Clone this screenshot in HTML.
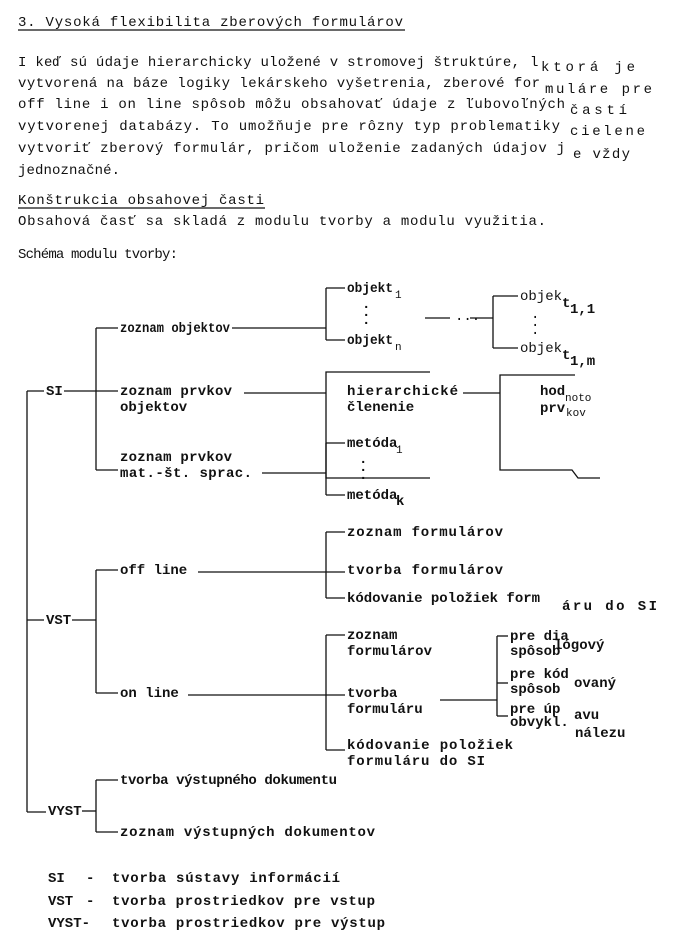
<!DOCTYPE html>
<html><head><meta charset="utf-8"><style>
html,body{margin:0;padding:0;background:#fff}
svg{display:block}
text{font-family:"Liberation Mono",monospace;font-size:14px;fill:#111;font-weight:bold}
.n{font-weight:normal;font-size:14px}
.s{font-size:11px;font-weight:normal}
line,path{stroke:#111;stroke-width:1.3;fill:none}
</style></head><body>
<svg width="673" height="941" viewBox="0 0 673 941" xmlns="http://www.w3.org/2000/svg">
<text class="n" x="18" y="26" textLength="385" lengthAdjust="spacing">3. Vysoká flexibilita zberových formulárov</text>
<line x1="18" y1="30" x2="405" y2="30"/>
<text class="n" x="18" y="66" textLength="502" lengthAdjust="spacing">I keď sú údaje hierarchicky uložené v stromovej štruktúre,</text>
<text class="n" x="530" y="66">l</text>
<text class="n" x="541" y="71" textLength="94" lengthAdjust="spacing">ktorá je</text>
<text class="n" x="18" y="87" textLength="522" lengthAdjust="spacing">vytvorená na báze logiky lekárskeho vyšetrenia, zberové for</text>
<text class="n" x="545" y="93" textLength="107" lengthAdjust="spacing">muláre pre</text>
<text class="n" x="18" y="108" textLength="547" lengthAdjust="spacing">off line i on line spôsob môžu obsahovať údaje z ľubovoľných</text>
<text class="n" x="570" y="114" textLength="57" lengthAdjust="spacing">častí</text>
<text class="n" x="18" y="130" textLength="542" lengthAdjust="spacing">vytvorenej databázy. To umožňuje pre rôzny typ problematiky</text>
<text class="n" x="570" y="135" textLength="75" lengthAdjust="spacing">cielene</text>
<text class="n" x="18" y="152" textLength="547" lengthAdjust="spacing">vytvoriť zberový formulár, pričom uloženie zadaných údajov j</text>
<text class="n" x="573" y="158" textLength="57" lengthAdjust="spacing">e vždy</text>
<text class="n" x="18" y="174" textLength="102" lengthAdjust="spacing">jednoznačné.</text>
<text class="n" x="18" y="204" textLength="246" lengthAdjust="spacing">Konštrukcia obsahovej časti</text>
<line x1="18" y1="208" x2="265" y2="208"/>
<text class="n" x="18" y="225" textLength="528" lengthAdjust="spacing">Obsahová časť sa skladá z modulu tvorby a modulu využitia.</text>
<text class="n" x="18" y="258" textLength="160" lengthAdjust="spacing">Schéma modulu tvorby:</text>

<!-- SI branch -->
<line x1="27" y1="391" x2="27" y2="812"/>
<line x1="27" y1="391" x2="44" y2="391"/>
<text x="46" y="395">SI</text>
<line x1="64" y1="391" x2="96" y2="391"/>
<line x1="96" y1="328" x2="96" y2="470"/>
<line x1="96" y1="328" x2="118" y2="328"/>
<text x="120" y="332" textLength="110" lengthAdjust="spacingAndGlyphs">zoznam objektov</text>
<line x1="232" y1="328" x2="326" y2="328"/>
<line x1="326" y1="288" x2="326" y2="340"/>
<line x1="326" y1="288" x2="345" y2="288"/>
<line x1="326" y1="340" x2="345" y2="340"/>
<text x="347" y="292" textLength="46" lengthAdjust="spacingAndGlyphs">objekt</text><text class="s" x="395" y="298">1</text>
<text x="362" y="308">.</text><text x="362" y="316">.</text><text x="362" y="324">.</text>
<text x="347" y="344" textLength="46" lengthAdjust="spacingAndGlyphs">objekt</text><text class="s" x="395" y="350">n</text>
<line x1="425" y1="318" x2="450" y2="318"/>
<text class="n" x="455" y="320">...</text>
<line x1="470" y1="318" x2="493" y2="318"/>
<line x1="493" y1="296" x2="493" y2="348"/>
<line x1="493" y1="296" x2="518" y2="296"/>
<line x1="493" y1="348" x2="518" y2="348"/>
<text class="n" x="520" y="300">objek</text><text x="562" y="307">t</text><text x="570" y="313">1,1</text>
<text class="n" x="520" y="352">objek</text><text x="562" y="359">t</text><text x="570" y="365">1,m</text>
<text class="n" x="531" y="318">.</text><text class="n" x="531" y="326">.</text><text class="n" x="531" y="334">.</text>

<line x1="96" y1="391" x2="118" y2="391"/>
<text x="120" y="395" textLength="112" lengthAdjust="spacing">zoznam prvkov</text>
<text x="120" y="411">objektov</text>
<line x1="244" y1="393" x2="326" y2="393"/>
<path d="M430 372 H326 V478 H430"/>
<text x="347" y="395" textLength="111" lengthAdjust="spacing">hierarchické</text>
<text x="347" y="411">členenie</text>
<line x1="463" y1="393" x2="500" y2="393"/>
<path d="M575 375 H500 V470 H572 L578 478 H600"/>
<text x="540" y="395">hod</text><text x="540" y="412">prv</text>
<text class="s" x="565" y="401">noto</text><text class="s" x="566" y="416">kov</text>

<line x1="96" y1="470" x2="118" y2="470"/>
<text x="120" y="461" textLength="112" lengthAdjust="spacing">zoznam prvkov</text>
<text x="120" y="477" textLength="132" lengthAdjust="spacing">mat.-št. sprac.</text>
<line x1="262" y1="473" x2="326" y2="473"/>
<line x1="326" y1="443" x2="326" y2="495"/>
<line x1="326" y1="443" x2="345" y2="443"/>
<line x1="326" y1="495" x2="345" y2="495"/>
<text x="347" y="447">metóda</text><text class="s" x="396" y="453">1</text>
<text x="359" y="463">.</text><text x="359" y="471">.</text><text x="359" y="479">.</text>
<text x="347" y="499">metóda</text><text x="396" y="505">k</text>

<!-- VST -->
<line x1="27" y1="620" x2="44" y2="620"/>
<text x="46" y="624">VST</text>
<line x1="72" y1="620" x2="96" y2="620"/>
<line x1="96" y1="570" x2="96" y2="693"/>
<line x1="96" y1="570" x2="118" y2="570"/>
<text x="120" y="574">off line</text>
<line x1="198" y1="572" x2="326" y2="572"/>
<line x1="326" y1="532" x2="326" y2="598"/>
<line x1="326" y1="532" x2="345" y2="532"/>
<line x1="326" y1="572" x2="345" y2="572"/>
<line x1="326" y1="598" x2="345" y2="598"/>
<text x="347" y="536" textLength="156" lengthAdjust="spacing">zoznam formulárov</text>
<text x="347" y="574" textLength="156" lengthAdjust="spacing">tvorba formulárov</text>
<text x="347" y="602" textLength="193" lengthAdjust="spacing">kódovanie položiek form</text>
<text x="562" y="610" textLength="95" lengthAdjust="spacing">áru do SI</text>

<line x1="96" y1="693" x2="118" y2="693"/>
<text x="120" y="697">on line</text>
<line x1="188" y1="695" x2="326" y2="695"/>
<line x1="326" y1="635" x2="326" y2="750"/>
<line x1="326" y1="635" x2="345" y2="635"/>
<line x1="326" y1="695" x2="345" y2="695"/>
<line x1="326" y1="750" x2="345" y2="750"/>
<text x="347" y="639">zoznam</text><text x="347" y="655" textLength="85" lengthAdjust="spacing">formulárov</text>
<text x="347" y="697">tvorba</text><text x="347" y="713">formuláru</text>
<text x="347" y="749" textLength="166" lengthAdjust="spacing">kódovanie položiek</text><text x="347" y="765" textLength="138" lengthAdjust="spacing">formuláru do SI</text>
<line x1="440" y1="700" x2="497" y2="700"/>
<line x1="497" y1="636" x2="497" y2="716"/>
<line x1="497" y1="636" x2="508" y2="636"/>
<line x1="497" y1="683" x2="508" y2="683"/>
<line x1="497" y1="716" x2="508" y2="716"/>
<text x="510" y="640">pre dia</text><text x="510" y="655">spôsob</text><text x="554" y="649">lógový</text>
<text x="510" y="678">pre kód</text><text x="510" y="693">spôsob</text><text x="574" y="687">ovaný</text>
<text x="510" y="713">pre úp</text><text x="510" y="726">obvykl.</text><text x="574" y="719">avu</text><text x="575" y="737">nálezu</text>

<!-- VYST -->
<line x1="27" y1="812" x2="46" y2="812"/>
<text x="48" y="815">VYST</text>
<line x1="82" y1="811" x2="96" y2="811"/>
<line x1="96" y1="780" x2="96" y2="832"/>
<line x1="96" y1="780" x2="118" y2="780"/>
<line x1="96" y1="832" x2="118" y2="832"/>
<text x="120" y="784" textLength="217" lengthAdjust="spacing">tvorba výstupného dokumentu</text>
<text x="120" y="836" textLength="255" lengthAdjust="spacing">zoznam výstupných dokumentov</text>

<text x="48" y="882">SI</text><text x="86" y="882">-</text><text x="112" y="882" textLength="228" lengthAdjust="spacing">tvorba sústavy informácií</text>
<text x="48" y="905">VST</text><text x="86" y="905">-</text><text x="112" y="905" textLength="263" lengthAdjust="spacing">tvorba prostriedkov pre vstup</text>
<text x="48" y="927">VYST-</text><text x="112" y="927" textLength="273" lengthAdjust="spacing">tvorba prostriedkov pre výstup</text>
</svg>
</body></html>
